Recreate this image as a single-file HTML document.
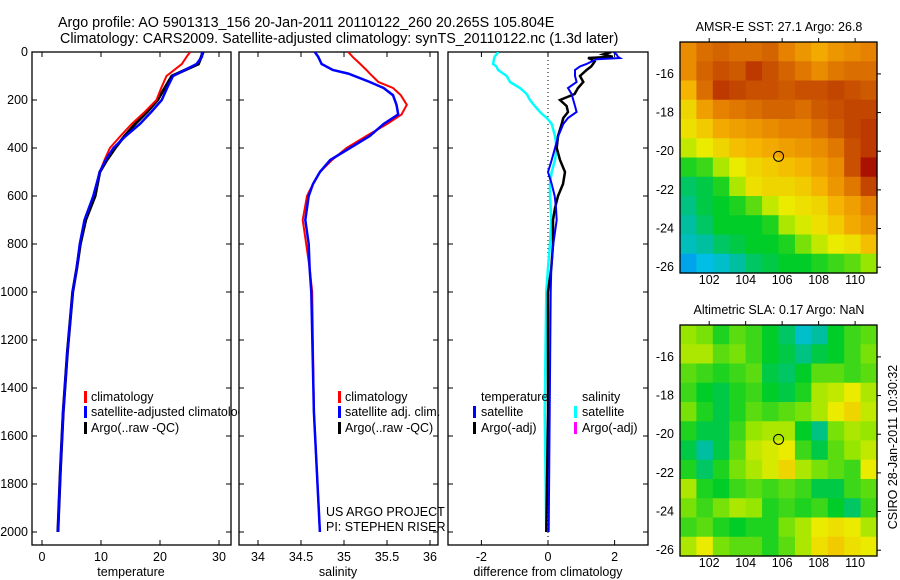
<!DOCTYPE html>
<html><head><meta charset="utf-8">
<style>
html,body{margin:0;padding:0;background:#fff;}
svg{display:block;font-family:"Liberation Sans",sans-serif;}
text{fill:#000;}
</style></head>
<body>
<svg id="fig" width="900" height="580" viewBox="0 0 900 580">
<text x="58" y="27" font-size="14.3">Argo profile: AO 5901313_156 20-Jan-2011 20110122_260 20.265S 105.804E</text>
<text x="60" y="43" font-size="14.3">Climatology: CARS2009. Satellite-adjusted climatology: synTS_20110122.nc (1.3d later)</text>
<defs>
<clipPath id="c1"><rect x="32" y="52" width="199" height="493"/></clipPath>
<clipPath id="c1b"><rect x="0" y="0" width="239" height="580"/></clipPath>
<clipPath id="c2"><rect x="239" y="52" width="199" height="493"/></clipPath>
<clipPath id="c3"><rect x="448" y="52" width="200" height="493"/></clipPath>
</defs>
<g id="p1"></g>
<g id="p2"></g>
<g id="p3"></g>
<g id="m1"></g>
<g id="m2"></g>
<text transform="translate(897,447) rotate(-90)" text-anchor="middle" font-size="12.5">CSIRO 28-Jan-2011 10:30:32</text>
</svg>
<script>
// ---- data ----
const depthsT = [0,20,50,100,150,200,250,300,350,400,450,500,600,700,800,900,1000,1250,1500,1750,2000];
const tempClim = [25.1,24.5,23.7,21.1,20.2,19.4,17.4,15.2,13.3,11.5,10.6,9.8,8.7,7.2,6.4,5.9,5.2,4.3,3.6,3.1,2.7];
const tempSat  = [27.1,27.1,26.2,22.2,21.2,20.3,18.5,16.6,14.2,12.1,10.8,9.8,8.7,7.2,6.4,5.9,5.2,4.3,3.6,3.1,2.7];
const tempArgo = [27.3,27.0,26.5,22.0,20.8,19.6,17.8,15.8,14.0,12.4,11.0,9.8,9.0,7.4,6.5,5.9,5.2,4.3,3.6,3.1,2.7];
const depthsS = [0,20,50,75,90,125,150,180,220,260,300,350,400,450,500,550,600,700,800,900,1000,1500,2000];
const salClim = [35.05,35.1,35.19,35.26,35.3,35.4,35.57,35.66,35.73,35.67,35.5,35.26,35.03,34.86,34.72,34.64,34.57,34.52,34.56,34.6,34.63,34.65,34.72];
const salSat  = [34.66,34.7,34.74,34.87,35.05,35.3,35.46,35.57,35.61,35.63,35.46,35.3,35.07,34.84,34.72,34.64,34.59,34.55,34.59,34.6,34.62,34.65,34.72];
const depthsD = [0,10,20,25,30,40,50,60,75,100,125,150,175,200,225,250,275,300,350,400,450,500,550,600,650,700,800,900,1000,1500,2000];
const diffTSat = [1.96,2.06,2.1,2.16,1.46,1.3,1.16,0.96,0.81,0.81,0.86,0.6,0.71,0.76,0.81,0.86,0.6,0.46,0.31,0.21,0.11,0.0,0.11,0.2,0.24,0.26,0.16,0.1,0.08,0.05,0.02];
const diffTArgo = [1.9,1.66,1.95,1.2,1.3,1.4,1.35,1.3,1.16,0.96,1.06,0.9,0.8,0.36,0.56,0.6,0.46,0.41,0.3,0.26,0.36,0.51,0.45,0.3,0.21,0.15,0.15,0.1,0.0,0.0,-0.05];
const diffSSat = [-1.49,-1.55,-1.6,-1.62,-1.62,-1.64,-1.65,-1.55,-1.5,-1.24,-1.14,-0.84,-0.64,-0.54,-0.4,-0.24,-0.04,0.11,0.21,0.26,0.21,0.11,0.06,0.06,0.08,0.1,0.06,0.0,-0.05,-0.1,-0.05];
const depthTicks = [0,200,400,600,800,1000,1200,1400,1600,1800,2000];
const tempTicks = [0,10,20,30];
const salTicks = [34,34.5,35,35.5,36];
const salTickLabels = ["34","34.5","35","35.5","36"];
const diffTicks = [-2,0,2];
const lonTicks = [102,104,106,108,110];
const latTicks = [-16,-18,-20,-22,-24,-26];
const sstGrid = [
[.74,.8,.82,.8,.8,.82,.76,.72,.68,.72,.74,.76],
[.74,.82,.86,.84,.9,.86,.82,.78,.74,.78,.8,.8],
[.66,.8,.9,.88,.86,.86,.84,.86,.86,.88,.86,.84],
[.6,.7,.76,.78,.8,.82,.82,.8,.84,.86,.88,.88],
[.58,.62,.68,.7,.72,.74,.76,.76,.8,.84,.88,.9],
[.52,.56,.6,.64,.66,.68,.7,.72,.74,.78,.86,.9],
[.4,.42,.5,.56,.6,.62,.64,.66,.7,.74,.86,.97],
[.34,.36,.4,.5,.58,.6,.6,.62,.66,.72,.78,.88],
[.32,.36,.38,.4,.44,.52,.56,.58,.6,.66,.7,.76],
[.3,.34,.38,.38,.38,.4,.5,.54,.58,.62,.68,.72],
[.26,.3,.34,.36,.38,.38,.4,.46,.52,.56,.58,.64],
[.16,.2,.24,.3,.34,.36,.38,.38,.4,.42,.44,.48]];
const slaGrid = [
[.48,.46,.4,.44,.42,.38,.34,.24,.3,.38,.42,.44],
[.5,.5,.44,.46,.42,.38,.36,.32,.36,.38,.42,.46],
[.44,.42,.4,.42,.44,.36,.34,.38,.44,.44,.42,.44],
[.42,.38,.36,.4,.42,.38,.36,.4,.5,.52,.56,.5],
[.46,.4,.36,.4,.44,.42,.44,.46,.5,.56,.6,.52],
[.4,.36,.36,.42,.48,.5,.5,.38,.32,.46,.5,.48],
[.36,.3,.36,.44,.52,.54,.56,.42,.36,.44,.48,.52],
[.4,.34,.4,.46,.5,.54,.6,.5,.46,.44,.42,.56],
[.5,.4,.38,.42,.44,.42,.44,.42,.36,.36,.42,.44],
[.46,.42,.46,.5,.48,.4,.42,.4,.42,.38,.34,.42],
[.42,.44,.4,.38,.4,.4,.46,.5,.56,.58,.56,.5],
[.5,.56,.46,.44,.44,.4,.44,.5,.58,.62,.58,.56]];
const argoLon = 105.804, argoLat = -20.265;

// ---- helpers ----
const NS="http://www.w3.org/2000/svg";
function mk(parent, tag, attrs){const e=document.createElementNS(NS,tag);for(const k in attrs)e.setAttribute(k,attrs[k]);parent.appendChild(e);return e;}
const yD = d => 52 + d*0.24;
const xT = t => 42 + t*5.9;
const xS = s => 258 + (s-34)*86;
const xDf = v => 548 + v*33.3;
const lonX0 = 680, lonX1 = 877;
const xLon = l => lonX0 + (l-100.4)/(111.2-100.4)*(lonX1-lonX0);
function yLat(top, l){return top + (l-(-14.35))/((-26.3)-(-14.35))*231;}

function frame(g, x0, x1, name){
  const r=mk(g,'rect',{x:x0,y:52,width:x1-x0,height:493,fill:'#fff',stroke:'#000','stroke-width':1.3});
  
  
}
function yticks(g,x0,x1,labels){
  depthTicks.forEach(d=>{
    const y=yD(d);
    mk(g,'line',{x1:x0,x2:x0+5,y1:y,y2:y,stroke:'#000'});
    mk(g,'line',{x1:x1-5,x2:x1,y1:y,y2:y,stroke:'#000'});
    if(labels){const t=mk(g,'text',{x:x0-4,y:y+4,'text-anchor':'end','font-size':12.5});t.textContent=d;
      
      }
  });
}
function xticks(g, vals, labs, fx){
  vals.forEach((v,i)=>{
    const x=fx(v);
    mk(g,'line',{x1:x,x2:x,y1:545,y2:540,stroke:'#000'});
    mk(g,'line',{x1:x,x2:x,y1:52,y2:57,stroke:'#000'});
    const t=mk(g,'text',{x:x,y:561,'text-anchor':'middle','font-size':12.5});t.textContent=labs[i];
    
    
  });
}
function line(g, xs, ds, fx, color, w, clip, name){
  const pts = xs.map((v,i)=>fx(v).toFixed(1)+','+yD(ds[i]).toFixed(1)).join(' ');
  const p=mk(g,'polyline',{points:pts,fill:'none',stroke:color,'stroke-width':w,'clip-path':'url(#'+clip+')'});
  
  
}
function label(g,x,y,txt,name,size){const t=mk(g,'text',{x:x,y:y,'font-size':size||12.5});t.textContent=txt;
  
  return t;}
function legMark(g,x,y,color){mk(g,'rect',{x:x,y:y-10,width:3,height:12,fill:color});}

// ---- panel 1 ----
const p1=document.getElementById('p1');
frame(p1,32,231,'temperature-axes');
yticks(p1,32,231,true);
xticks(p1,tempTicks,tempTicks.map(String),xT);
line(p1,tempArgo,depthsT,xT,'#000',3,'c1','temp-argo-line');
line(p1,tempClim,depthsT,xT,'#f00',2,'c1','temp-climatology-line');
line(p1,tempSat,depthsT,xT,'#00f',2.5,'c1','temp-satellite-line');
label(p1,131,576,'temperature','temperature-axis-title').setAttribute('text-anchor','middle');
legMark(p1,84,401,'#f00');legMark(p1,84,416,'#00f');legMark(p1,84,432,'#000');
label(p1,91,401,'climatology','legend-climatology');
label(p1,91,416,'satellite-adjusted climatology','legend-satellite').setAttribute('clip-path','url(#c1b)');
label(p1,91,432,'Argo(..raw -QC)','legend-argo');

// ---- panel 2 ----
const p2=document.getElementById('p2');
frame(p2,239,438,'salinity-axes');
yticks(p2,239,438,false);
xticks(p2,salTicks,salTickLabels,xS);
line(p2,salClim,depthsS,xS,'#f00',2,'c2','sal-climatology-line');
line(p2,salSat,depthsS,xS,'#00f',2.5,'c2','sal-satellite-line');
label(p2,338,576,'salinity','salinity-axis-title').setAttribute('text-anchor','middle');
legMark(p2,338,401,'#f00');legMark(p2,338,416,'#00f');legMark(p2,338,432,'#000');
label(p2,345,401,'climatology','legend-climatology-2');
label(p2,345,416,'satellite adj. clim.','legend-satellite-2');
label(p2,345,432,'Argo(..raw -QC)','legend-argo-2');
label(p2,326,516,'US ARGO PROJECT','project-label');
label(p2,326,531,'PI: STEPHEN RISER','pi-label');

// ---- panel 3 ----
const p3=document.getElementById('p3');
frame(p3,448,648,'difference-axes');
yticks(p3,448,648,false);
xticks(p3,diffTicks,diffTicks.map(String),xDf);
mk(p3,'line',{x1:xDf(0),x2:xDf(0),y1:52,y2:545,stroke:'#000','stroke-dasharray':'1,3'});
line(p3,diffSSat,depthsD,xDf,'#0ff',2.5,'c3','sal-diff-satellite-line');
line(p3,diffTArgo,depthsD,xDf,'#000',2.5,'c3','temp-diff-argo-line');
line(p3,diffTSat,depthsD,xDf,'#00f',2,'c3','temp-diff-satellite-line');
label(p3,548,576,'difference from climatology','difference-axis-title').setAttribute('text-anchor','middle');
label(p3,481,401,'temperature','legend-temperature-head');
legMark(p3,473,416,'#00f');legMark(p3,473,432,'#000');
label(p3,481,416,'satellite','legend-temp-satellite');
label(p3,481,432,'Argo(-adj)','legend-temp-argo');
label(p3,582,401,'salinity','legend-salinity-head');
legMark(p3,574,416,'#0ff');legMark(p3,574,432,'#f0f');
label(p3,582,416,'satellite','legend-sal-satellite');
label(p3,582,432,'Argo(-adj)','legend-sal-argo');

// ---- maps ----
const stops=[[0,[0,60,255]],[0.2,[0,190,230]],[0.3,[0,190,160]],[0.38,[0,205,40]],[0.48,[150,230,0]],[0.56,[235,235,0]],[0.66,[245,180,0]],[0.76,[230,130,0]],[0.86,[200,80,0]],[1,[160,0,0]]];
function cmap(v){for(let i=1;i<stops.length;i++){if(v<=stops[i][0]){const a=stops[i-1],b=stops[i];const f=(v-a[0])/(b[0]-a[0]);return 'rgb('+a[1].map((c,k)=>Math.round(c+(b[1][k]-c)*f)).join(',')+')';}}return 'rgb(160,0,0)';}
function drawMap(g, top, grid, title, name){
  const rows=grid.length, cols=grid[0].length;
  const cw=(lonX1-lonX0)/cols, ch=231/rows;
  grid.forEach((row,r)=>row.forEach((v,c)=>{
    const cell=mk(g,'rect',{x:(lonX0+c*cw).toFixed(2),y:(top+r*ch).toFixed(2),width:(cw+0.6).toFixed(2),height:(ch+0.6).toFixed(2),fill:cmap(v)});
    
    
  }));
  const fr=mk(g,'rect',{x:lonX0,y:top,width:lonX1-lonX0,height:231,fill:'none',stroke:'#000','stroke-width':1.3});
  
  
  lonTicks.forEach(l=>{const x=xLon(l);
    mk(g,'line',{x1:x,x2:x,y1:top,y2:top-4,stroke:'#000'});
    const t=label(g,x,top+242,String(l),'lon-tick-label');t.setAttribute('text-anchor','middle');});
  latTicks.forEach(l=>{const y=yLat(top,l);
    mk(g,'line',{x1:lonX1,x2:lonX1+4,y1:y,y2:y,stroke:'#000'});
    const t=label(g,lonX0-6,y+4,String(l),'lat-tick-label');t.setAttribute('text-anchor','end');});
  const c=mk(g,'circle',{cx:xLon(argoLon),cy:yLat(top,argoLat),r:5,fill:'none',stroke:'#000','stroke-width':1});
  
  
  const t=label(g,779,top-11,title,name+'-title');t.setAttribute('text-anchor','middle');
}
drawMap(document.getElementById('m1'),42,sstGrid,'AMSR-E SST: 27.1 Argo: 26.8','sst-map');
drawMap(document.getElementById('m2'),325,slaGrid,'Altimetric SLA: 0.17 Argo: NaN','sla-map');
</script>
</body></html>
